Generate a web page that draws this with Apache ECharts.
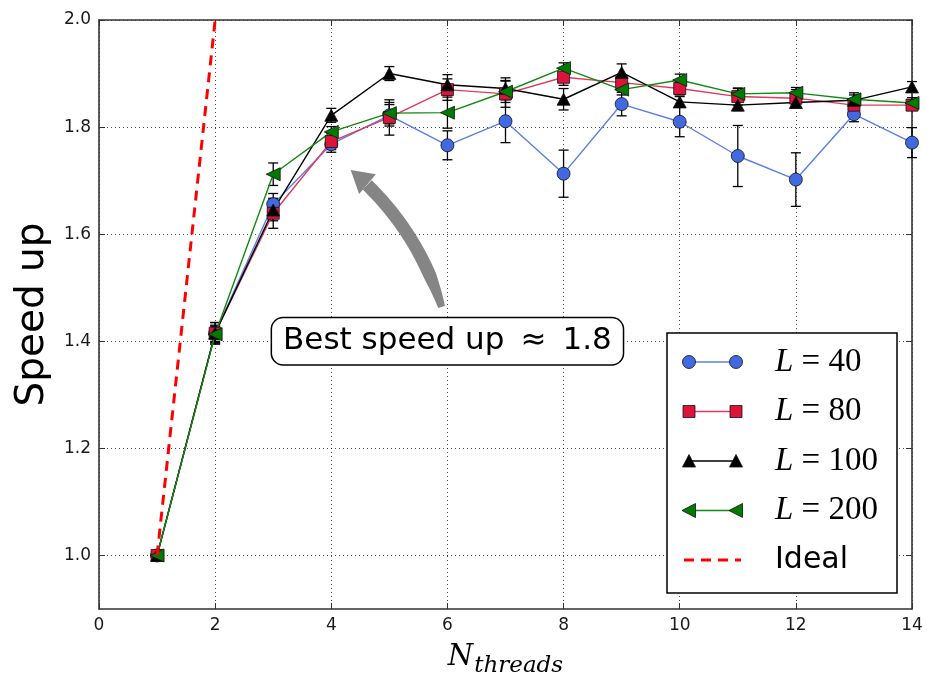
<!DOCTYPE html>
<html><head><meta charset="utf-8">
<script src="https://cdn.jsdelivr.net/npm/echarts@6/dist/echarts.min.js"></script>
<style>html,body{margin:0;padding:0;background:#fff}#c{width:927px;height:683px}</style>
</head><body><div id="c"></div>
<script>
// ---- data ----
const threads = [1,2,3,4,5,6,7,8,9,10,11,12,13,14];
const L40     = [1.000,1.415,1.656,1.768,1.822,1.766,1.811,1.713,1.843,1.810,1.746,1.702,1.824,1.771];
const L40err  = [0,0.020,0.020,0.015,0.020,0.027,0.040,0.044,0.022,0.028,0.057,0.050,0.014,0.028];
const L80     = [1.000,1.415,1.639,1.773,1.818,1.870,1.862,1.893,1.883,1.872,1.857,1.854,1.841,1.841];
const L80err  = [0,0.015,0.028,0.015,0.033,0.020,0.025,0.015,0.015,0.012,0.016,0.016,0.012,0.010];
const L100    = [1.000,1.415,1.645,1.822,1.900,1.879,1.872,1.852,1.902,1.847,1.841,1.846,1.850,1.875];
const L100err = [0,0.020,0.020,0.013,0.013,0.019,0.020,0.020,0.016,0.010,0.010,0.010,0.010,0.010];
const L200    = [1.000,1.413,1.712,1.791,1.826,1.827,1.866,1.910,1.870,1.888,1.862,1.864,1.852,1.845];
const L200err = [0,0.015,0.021,0.010,0.020,0.029,0.020,0.010,0.010,0.011,0.010,0.010,0.012,0.010];
const idealX  = [1,2];
const idealY  = [1,2];
const xTicks  = [0,2,4,6,8,10,12,14];
const yTicks  = [1.0,1.2,1.4,1.6,1.8,2.0];
const seriesNames = ['L = 40','L = 80','L = 100','L = 200','Ideal'];
const annotText = 'Best speed up \u2009\u2248\u2009 1.8';
const annotAt   = [6.0, 1.400];
const arrowTail = [5.90, 1.464];
const arrowCtrl = [5.46, 1.617];
const arrowTip  = [4.334, 1.720];

// ---- styles ----
const styles = [
  {sym:'circle',   size:13, rot:0,  mc:'#4169e1', lc:'#5a7fe8'},
  {sym:'rect',     size:12, rot:0,  mc:'#dc143c', lc:'#e23a5d'},
  {sym:'triangle', size:[13,12], rot:0, mc:'#000000', lc:'#000000'},
  {sym:'triangle', size:[13,14], rot:90, mc:'#007a00', lc:'#118a11'}
];
const values = [L40, L80, L100, L200];
const errs   = [L40err, L80err, L100err, L200err];

function errSeries(vals, e){
  return {
    type:'custom', silent:true, z:2,
    renderItem:(params, api)=>{
      const x=api.value(0), lo=api.value(1), hi=api.value(2);
      const a=api.coord([x,lo]), b=api.coord([x,hi]);
      const w=5, st={stroke:'#000', lineWidth:1.3};
      return {type:'group', children:[
        {type:'line', shape:{x1:a[0],y1:a[1],x2:b[0],y2:b[1]}, style:st},
        {type:'line', shape:{x1:a[0]-w,y1:a[1],x2:a[0]+w,y2:a[1]}, style:st},
        {type:'line', shape:{x1:b[0]-w,y1:b[1],x2:b[0]+w,y2:b[1]}, style:st}
      ]};
    },
    encode:{x:0, y:[1,2]},
    data: threads.map((x,i)=>[x, vals[i]-e[i], vals[i]+e[i]])
  };
}

const series = [];
values.forEach((vals, k)=>{
  const s = styles[k];
  series.push(errSeries(vals, errs[k]));
  series.push({
    name: seriesNames[k], type:'line', z:2,
    data: threads.map((x,i)=>[x, vals[i]]),
    symbol: s.sym, symbolSize: s.size, symbolRotate: s.rot,
    itemStyle:{color:s.mc, borderColor:'#111', borderWidth:0.8},
    lineStyle:{color:s.lc, width:1.4},
    emphasis:{disabled:true}
  });
});
series.push({
  name: seriesNames[4], type:'line', z:3, symbol:'none',
  data: idealX.map((x,i)=>[x, idealY[i]]),
  lineStyle:{color:'#ff0000', width:3, type:[10,7]},
  emphasis:{disabled:true}
});

const axisColor = '#333';
const labelFont = {fontFamily:'DejaVu Sans', fontSize:17, color:'#1a1a1a'};
const gridLine = {show:true, lineStyle:{color:'#000', width:1, type:[1,3], opacity:0.7}};

const chart = echarts.init(document.getElementById('c'), null, {renderer:'canvas'});
chart.setOption({
  animation:false,
  backgroundColor:'#fff',
  grid:{left:99, right:15, top:20, bottom:74, containLabel:false},
  xAxis:[
    {type:'value', min:0, max:14, interval:2, position:'bottom',
     axisLine:{show:true, onZero:false, lineStyle:{color:axisColor, width:1.6}},
     axisTick:{show:true, inside:true, length:6, lineStyle:{color:axisColor, width:1}},
     axisLabel:Object.assign({margin:8}, labelFont),
     splitLine:gridLine,
     name:'{n|N}{s|threads}', nameLocation:'middle', nameGap:34,
     nameTextStyle:{rich:{
       n:{fontFamily:'DejaVu Serif', fontStyle:'italic', fontSize:29, color:'#000', padding:[0,1,6,0], verticalAlign:'bottom'},
       s:{fontFamily:'DejaVu Serif', fontStyle:'italic', fontSize:23, color:'#000', verticalAlign:'bottom'}
     }}
    },
    {type:'value', min:0, max:14, interval:2, position:'top',
     axisLine:{show:true, onZero:false, lineStyle:{color:axisColor, width:1.6}},
     axisTick:{show:true, inside:true, length:6, lineStyle:{color:axisColor, width:1}},
     axisLabel:{show:false}, splitLine:{show:false}}
  ],
  yAxis:[
    {type:'value', min:0.9, max:2.0, position:'left',
     axisLine:{show:true, onZero:false, lineStyle:{color:axisColor, width:1.6}},
     axisTick:{show:true, inside:true, length:6, customValues:yTicks, lineStyle:{color:axisColor, width:1}},
     axisLabel:Object.assign({margin:8, customValues:yTicks, formatter:v=>Number(v).toFixed(1)}, labelFont),
     splitLine:gridLine,
     name:'Speed up', nameLocation:'middle', nameGap:47, nameRotate:90,
     nameTextStyle:{fontFamily:'DejaVu Sans', fontSize:39, color:'#000'}
    },
    {type:'value', min:0.9, max:2.0, position:'right',
     axisLine:{show:true, onZero:false, lineStyle:{color:axisColor, width:1.6}},
     axisTick:{show:true, inside:true, length:6, customValues:yTicks, lineStyle:{color:axisColor, width:1}},
     axisLabel:{show:false}, splitLine:{show:false}}
  ],
  legend:{show:false},
  series: series
});

// ---- annotation & legend (graphic) ----
function px(p){ return chart.convertToPixel({gridIndex:0}, p); }
const graphics = [];
(function(){
  const P0=px(arrowTail), C=px(arrowCtrl), P2=px(arrowTip);
  const Q=(t)=>[ (1-t)*(1-t)*P0[0]+2*(1-t)*t*C[0]+t*t*P2[0], (1-t)*(1-t)*P0[1]+2*(1-t)*t*C[1]+t*t*P2[1] ];
  const D=(t)=>[ 2*(1-t)*(C[0]-P0[0])+2*t*(P2[0]-C[0]), 2*(1-t)*(C[1]-P0[1])+2*t*(P2[1]-C[1]) ];
  let L=0, prev=Q(0);
  for(let i=1;i<=100;i++){const p=Q(i/100); L+=Math.hypot(p[0]-prev[0],p[1]-prev[1]); prev=p;}
  const headLen=22, headW=26;
  const tb = 1 - headLen/L;
  const left=[], right=[];
  const N=40;
  for(let i=0;i<=N;i++){
    const t=tb*i/N, p=Q(t), d=D(t), l=Math.hypot(d[0],d[1]);
    const nx=-d[1]/l, ny=d[0]/l;
    const w = (7 + 6*Math.min(1, t/0.2))/2 ;
    left.push([p[0]+nx*w, p[1]+ny*w]);
    right.push([p[0]-nx*w, p[1]-ny*w]);
  }
  const body = left.concat(right.reverse());
  const d=D(1), l=Math.hypot(d[0],d[1]);
  const ux=d[0]/l, uy=d[1]/l, nx=-uy, ny=ux;
  const base=[P2[0]-ux*headLen, P2[1]-uy*headLen];
  const head=[[P2[0],P2[1]],[base[0]+nx*headW/2, base[1]+ny*headW/2],[base[0]-nx*headW/2, base[1]-ny*headW/2]];
  graphics.push({type:'polygon', shape:{points:body}, style:{fill:'#858585'}, z:50, silent:true});
  graphics.push({type:'polygon', shape:{points:head}, style:{fill:'#858585'}, z:50, silent:true});
  const A=px(annotAt);
  graphics.push({type:'text', x:A[0], y:A[1], z:60, silent:true,
    style:{text:annotText, font:'31px "DejaVu Sans"', fill:'#000', align:'center', verticalAlign:'middle',
      backgroundColor:'#fff', borderColor:'#000', borderWidth:1.5, borderRadius:11, padding:[8,11,7,11]}});
})();

// legend box
(function(){
  const bx=667, by=333, bw=230, bh=260;
  graphics.push({type:'rect', shape:{x:bx, y:by, width:bw, height:bh}, style:{fill:'#fff', stroke:'#000', lineWidth:1.5}, z:70, silent:true});
  const x1=689, x2=736, tx=775;
  const rows = seriesNames.map((n,i)=>by+29+i*49.5);
  function marker(k, cx, cy){
    const s=styles[k], st={fill:s.mc, stroke:'#111', lineWidth:0.8};
    if(s.sym==='circle') return {type:'circle', shape:{cx, cy, r:6.5}, style:st, z:72};
    if(s.sym==='rect') return {type:'rect', shape:{x:cx-6, y:cy-6, width:12, height:12}, style:st, z:72};
    if(s.rot===0) return {type:'polygon', shape:{points:[[cx,cy-6.5],[cx+6.5,cy+6],[cx-6.5,cy+6]]}, style:st, z:72};
    return {type:'polygon', shape:{points:[[cx-7,cy],[cx+6.5,cy-7],[cx+6.5,cy+7]]}, style:st, z:72};
  }
  for(let k=0;k<4;k++){
    const y=rows[k];
    graphics.push({type:'line', shape:{x1:x1, y1:y, x2:x2, y2:y}, style:{stroke:styles[k].lc, lineWidth:1.4}, z:71, silent:true});
    graphics.push(marker(k,x1,y)); graphics.push(marker(k,x2,y));
    const num = seriesNames[k].split('= ')[1];
    graphics.push({type:'text', x:tx, y:y, z:72, silent:true, style:{
      text:'{L|L}{e| = '+num+'}', verticalAlign:'middle', align:'left',
      rich:{L:{fontFamily:'Liberation Serif', fontStyle:'italic', fontSize:33, fill:'#000'},
            e:{fontFamily:'Liberation Serif', fontSize:33, fill:'#000'}}}});
  }
  const y=rows[4];
  graphics.push({type:'line', shape:{x1:x1-5, y1:y, x2:x2+5, y2:y}, style:{stroke:'#ff0000', lineWidth:3, lineDash:[10,7]}, z:71, silent:true});
  graphics.push({type:'text', x:tx, y:y, z:72, silent:true, style:{text:seriesNames[4], font:'30px "DejaVu Sans"', fill:'#000', verticalAlign:'middle'}});
})();
chart.setOption({graphic:graphics});
</script>
</body></html>
